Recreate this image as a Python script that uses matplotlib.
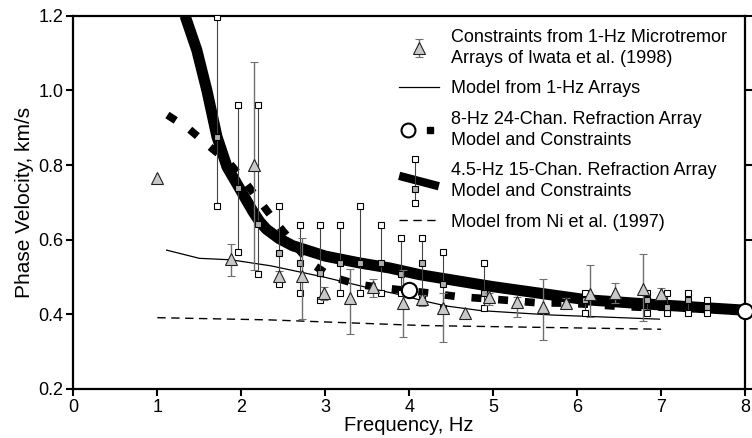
import numpy as np
import matplotlib
matplotlib.use('Agg')
import matplotlib.pyplot as plt
from matplotlib.lines import Line2D
from matplotlib.legend_handler import HandlerBase, HandlerTuple

plt.rcParams['font.family'] = ['Liberation Sans', 'DejaVu Sans']
plt.rcParams['font.size'] = 13

# constraints from 1-Hz microtremor arrays (Iwata et al., 1998)
iwata_f = [1.00, 1.88, 2.15, 2.45, 2.72, 2.98, 3.30, 3.57, 3.93, 4.15,
           4.40, 4.67, 4.95, 5.28, 5.59, 5.87, 6.15, 6.45, 6.78, 7.00]
iwata_v = [0.764, 0.548, 0.800, 0.503, 0.503, 0.458, 0.443, 0.474, 0.430, 0.440,
           0.418, 0.403, 0.447, 0.434, 0.419, 0.430, 0.455, 0.458, 0.467, 0.454]
iwata_hi = [np.nan, 0.588, 1.075, 0.515, 0.604, 0.474, 0.521, 0.494, 0.520, 0.452,
            0.456, np.nan, 0.458, 0.447, 0.494, 0.445, 0.532, 0.485, 0.562, 0.470]
iwata_lo = [np.nan, 0.503, 0.520, 0.492, 0.387, 0.438, 0.347, 0.446, 0.339, 0.422,
            0.327, np.nan, 0.425, 0.394, 0.331, 0.418, 0.394, 0.430, 0.383, 0.440]

# model from 1-Hz arrays
m1_f = [1.11, 1.50, 1.88, 2.35, 2.98, 3.57, 3.90, 4.15, 4.45, 4.85, 5.20, 5.71, 6.98]
m1_v = [0.572, 0.550, 0.546, 0.530, 0.500, 0.468, 0.452, 0.437, 0.422, 0.410, 0.405, 0.398, 0.387]

# 8-Hz 24-channel refraction array
m8_f = [1.12, 1.38, 1.61, 1.86, 2.05, 2.23, 2.42, 2.62, 2.82, 3.07, 3.37, 3.68,
        4.28, 4.59, 4.91, 5.20, 5.52, 5.83, 6.13, 6.45, 6.75, 7.06, 8.00]
m8_v = [0.934, 0.896, 0.852, 0.805, 0.753, 0.700, 0.644, 0.590, 0.538, 0.501, 0.481, 0.471,
        0.456, 0.447, 0.442, 0.437, 0.431, 0.430, 0.427, 0.422, 0.419, 0.419, 0.410]
c8_f = [4.0, 8.0]
c8_v = [0.465, 0.410]

# 4.5-Hz 15-channel refraction array
m45_f = [1.33, 1.47, 1.59, 1.71, 1.83, 1.96, 2.06, 2.14, 2.22, 2.30, 2.45, 2.61,
         3.00, 3.40, 3.77, 4.13, 5.00, 6.11, 7.00, 8.00]
m45_v = [1.200, 1.108, 1.000, 0.876, 0.795, 0.745, 0.706, 0.675, 0.648, 0.628, 0.603, 0.584,
         0.556, 0.538, 0.524, 0.506, 0.474, 0.439, 0.425, 0.411]
c45_f = [1.71, 1.96, 2.20, 2.45, 2.70, 2.94, 3.18, 3.41, 3.66, 3.90, 4.15, 4.40,
         4.89, 6.10, 6.83, 7.07, 7.32, 7.55]
c45_v = [0.876, 0.739, 0.641, 0.565, 0.537, 0.510, 0.537, 0.537, 0.537, 0.508, 0.537, 0.480,
         0.458, 0.438, 0.438, 0.420, 0.438, 0.420]
c45_hi = [1.197, 0.961, 0.961, 0.690, 0.639, 0.639, 0.639, 0.690, 0.639, 0.604, 0.604, 0.566,
          0.537, 0.458, 0.458, 0.458, 0.458, 0.438]
c45_lo = [0.690, 0.566, 0.508, 0.481, 0.458, 0.438, 0.458, 0.458, 0.458, 0.458, 0.443, 0.418,
          0.418, 0.403, 0.403, 0.403, 0.403, 0.403]

# model from Ni et al. (1997)
ni_f = [1.00, 2.34, 4.15, 5.57, 7.00]
ni_v = [0.391, 0.385, 0.370, 0.365, 0.360]

labels = ['Constraints from 1-Hz Microtremor\nArrays of Iwata et al. (1998)',
          'Model from 1-Hz Arrays',
          '8-Hz 24-Chan. Refraction Array\nModel and Constraints',
          '4.5-Hz 15-Chan. Refraction Array\nModel and Constraints',
          'Model from Ni et al. (1997)']

tri_face = '#c8c8c8'
bar_gray = '#707070'


class ThickBarHandler(HandlerBase):
    # thick model line with a constraint bar across it
    def create_artists(self, legend, orig_handle, xdescent, ydescent,
                       width, height, fontsize, trans):
        x0 = -xdescent
        yc = -ydescent + height / 2
        line = Line2D([x0, x0 + width], [yc + 4, yc - 3.5], color='k', lw=6,
                      solid_capstyle='butt', transform=trans)
        xb = x0 + 0.4 * width
        bar = Line2D([xb, xb], [yc + 16, yc - 15.5], color='#444444', lw=0.8,
                     transform=trans)
        ends = Line2D([xb, xb], [yc + 16, yc - 15.5], ls='none', marker='s', ms=5,
                      mfc='white', mec='k', mew=0.8, transform=trans)
        mid = Line2D([xb], [yc - 5.5], ls='none', marker='s', ms=5,
                     mfc='#b0b0b0', mec='k', mew=0.8, transform=trans)
        return [line, bar, ends, mid]


fig = plt.figure(figsize=(7.52, 4.38), dpi=100)
ax = fig.add_axes([0.0976, 0.112, 0.8931, 0.852])

# model from Ni et al.
ni_line, = ax.plot(ni_f, ni_v, color='k', lw=1.0, dashes=(6, 4), zorder=2)

# model from 1-Hz arrays
m1_line, = ax.plot(m1_f, m1_v, color='k', lw=0.9, zorder=3)

# 8-Hz dashed thick model
m8_line, = ax.plot(m8_f, m8_v, color='k', lw=5.5, dashes=(1.3, 2.2),
                   dash_capstyle='butt', zorder=4)

# 4.5-Hz thick model
ax.plot(m45_f, m45_v, color='k', lw=8, solid_capstyle='butt',
        solid_joinstyle='round', zorder=5)

# 4.5-Hz constraint bars
ax.vlines(c45_f, c45_lo, c45_hi, color='#444444', lw=0.8, zorder=6)
ax.plot(c45_f, c45_hi, ls='none', marker='s', ms=5, mfc='white', mec='k', mew=0.8, zorder=6)
ax.plot(c45_f, c45_lo, ls='none', marker='s', ms=5, mfc='white', mec='k', mew=0.8, zorder=6)
ax.plot(c45_f, c45_v, ls='none', marker='s', ms=5, mfc='#b0b0b0', mec='k', mew=0.8, zorder=6)

# Iwata constraints
iw_v = np.array(iwata_v)
yerr = [iw_v - np.array(iwata_lo), np.array(iwata_hi) - iw_v]
iw = ax.errorbar(iwata_f, iwata_v, yerr=yerr, fmt='^', ms=8, mfc=tri_face, mec='#222222',
                 mew=0.8, ecolor=bar_gray, elinewidth=1.0, capsize=3, capthick=1.0,
                 zorder=7)

# 8-Hz constraints (open circles)
c8_pts, = ax.plot(c8_f, c8_v, ls='none', marker='o', ms=11, mfc='white', mec='k',
                  mew=1.5, zorder=8, clip_on=False)

ax.set_xlim(0, 8)
ax.set_ylim(0.2, 1.2)
ax.set_xticks(range(0, 9))
ax.set_yticks([0.2, 0.4, 0.6, 0.8, 1.0, 1.2])
ax.set_yticklabels(['0.2', '0.4', '0.6', '0.8', '1.0', '1.2'])
ax.set_xlabel('Frequency, Hz', fontsize=14.5, labelpad=0)
ax.set_ylabel('Phase Velocity, km/s', fontsize=15, labelpad=3)
for s in ax.spines.values():
    s.set_linewidth(1.6)
ax.tick_params(direction='out', length=5, width=1.5, pad=2, right=True, top=False)

# legend handles
h_c8 = Line2D([], [], ls='none', marker='o', ms=10, mfc='white', mec='k', mew=1.5)
h_m8 = Line2D([], [], ls='none', marker='s', ms=4.5, mfc='k', mec='k')
h_45 = object()
handles = [iw, m1_line, (h_c8, h_m8), h_45, ni_line]
leg = ax.legend(handles, labels, loc='upper left', bbox_to_anchor=(0.485, 0.965),
                frameon=False, borderaxespad=0, borderpad=0, handlelength=2.2,
                handletextpad=0.7, labelspacing=0.75, numpoints=1,
                handler_map={tuple: HandlerTuple(ndivide=None, pad=0.2),
                             h_45: ThickBarHandler()})
for t in leg.get_texts():
    t.set_linespacing(1.3)

fig.savefig('out.png', dpi=100)
